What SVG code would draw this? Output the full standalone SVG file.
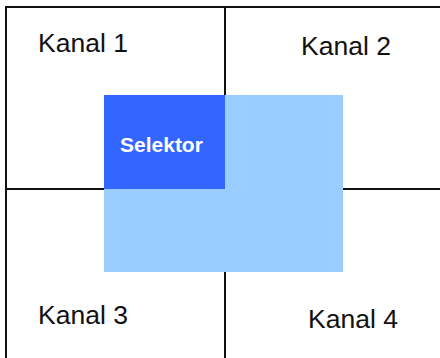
<svg xmlns="http://www.w3.org/2000/svg" width="440" height="358" viewBox="0 0 440 358">
<style>
.ln{stroke:#111;stroke-width:2;fill:none}
.lbl{font-family:"Liberation Sans",Arial,sans-serif;font-size:26.5px;fill:#111}
.sel{font-family:"Liberation Sans",Arial,sans-serif;font-size:21px;font-weight:bold;fill:#fff}
</style>
<rect width="440" height="358" fill="#fff"/>
<g id="grid" class="ln">
<line x1="6" y1="7" x2="440" y2="7"/>
<line x1="6" y1="6" x2="6" y2="358"/>
<line x1="225" y1="7" x2="225" y2="358"/>
<line x1="6" y1="189" x2="440" y2="189"/>
</g>
<g id="kanal1"><text class="lbl" x="38" y="52">Kanal 1</text></g>
<g id="kanal2"><text class="lbl" x="301" y="55">Kanal 2</text></g>
<g id="kanal3"><text class="lbl" x="38" y="324">Kanal 3</text></g>
<g id="kanal4"><text class="lbl" x="308" y="328">Kanal 4</text></g>
<g id="bereich"><rect x="104" y="95" width="239" height="177" fill="#99CCFF"/></g>
<g id="selektor"><rect x="104" y="95" width="121" height="94" fill="#3366FF"/><text class="sel" x="120" y="152">Selektor</text></g>
</svg>
